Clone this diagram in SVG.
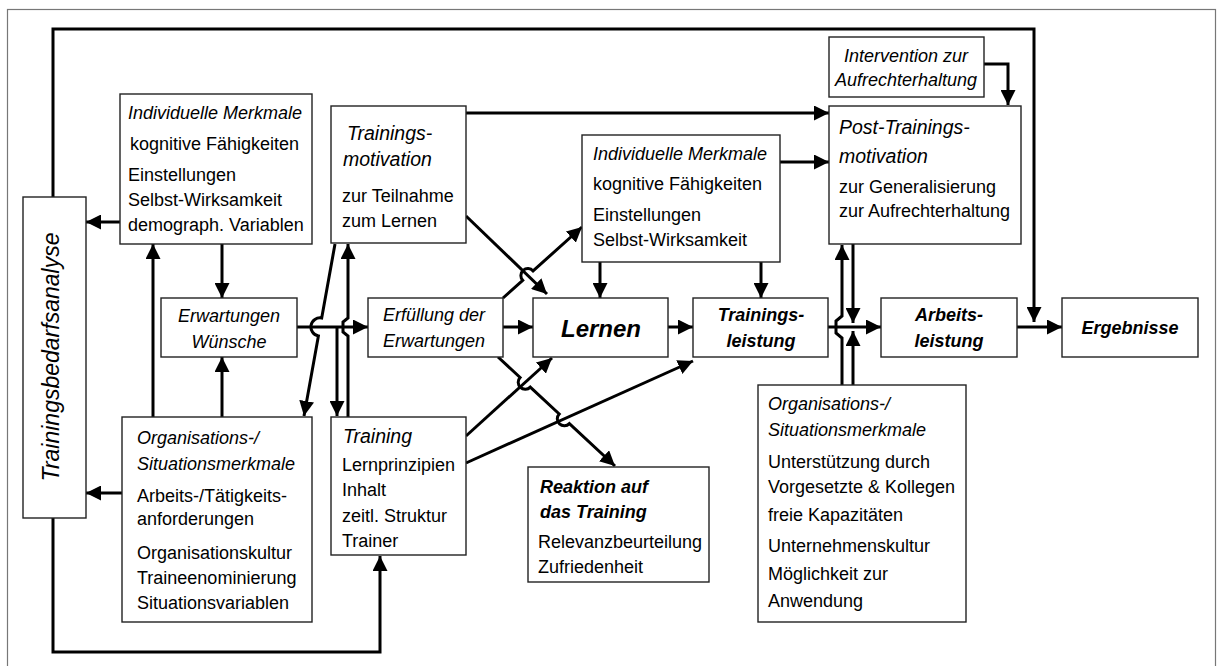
<svg xmlns="http://www.w3.org/2000/svg" width="1221" height="666" viewBox="0 0 1221 666">
<defs>
<marker id="ah" markerWidth="15" markerHeight="15" refX="15" refY="7.5" orient="auto" markerUnits="userSpaceOnUse">
<path d="M0,0 L15,7.5 L0,15 z" fill="#000"/>
</marker>
<style>
.box{fill:#fff;stroke:#222;stroke-width:1.4}
.c{fill:none;stroke:#000;stroke-width:3;stroke-linejoin:miter}
.a{marker-end:url(#ah)}
text{font-family:"Liberation Sans",Arial,sans-serif;font-size:18px;fill:#000}
.i{font-style:italic}
.b{font-weight:bold;font-style:italic}
.big{font-size:19.5px}
.mid{text-anchor:middle}
</style>
</defs>
<rect x="7.5" y="9.5" width="1208" height="680" fill="#fff" stroke="#777" stroke-width="1.2"/>

<g id="connectors">
<path class="c a" d="M53,197 V29 H1034 V322"/>
<path class="c a" d="M53,518 V652 H380 V556"/>
<path class="c a" d="M120,222 H86"/>
<path class="c a" d="M122,493 H86"/>
<path class="c a" d="M153,417 V244"/>
<path class="c a" d="M222,244 V298"/>
<path class="c a" d="M222,417 V357"/>
<path class="c a" d="M297,327 H368"/>
<path class="c a" d="M337,327 V416"/>
<path class="c a" d="M348,417 V336 L343,332 V322 L348,318 V244"/>
<path class="c a" d="M335,244 L321.7,318 A9,9 0 0 0 318.4,336 L304,416"/>
<path class="c a" d="M503,327 H533"/>
<path class="c a" d="M668,327 H693"/>
<path class="c a" d="M828,327 H881"/>
<path class="c a" d="M842,385 V338 L836,333 V321 L842,316 V245"/>
<path class="c a" d="M853,244 V323"/>
<path class="c a" d="M853,385 V331"/>
<path class="c a" d="M1017,327 H1062"/>
<path class="c a" d="M984,64 H1008 V105"/>
<path class="c a" d="M466,113 H829"/>
<path class="c a" d="M780,162 H829"/>
<path class="c a" d="M600,262 V298"/>
<path class="c a" d="M761,262 V298"/>
<path class="c a" d="M466,216 L547,294"/>
<path class="c a" d="M503,298 L522.7,280.3 A7,7 0 0 1 533.1,270.9 L582,227"/>
<path class="c a" d="M466,436 L552,358"/>
<path class="c a" d="M466,463 L693,361"/>
<path class="c a" d="M498,357 L520.1,377.5 A7,7 0 0 0 530.3,387.1 L559.2,414 A7,7 0 0 0 569.4,423.6 L615,466"/>
</g>

<g id="tba">
<rect class="box" x="23" y="197" width="63" height="321"/>
<text class="i mid" font-size="23" style="font-size:23px" transform="translate(59,357) rotate(-90)">Trainingsbedarfsanalyse</text>
</g>

<g id="ind1">
<rect class="box" x="120" y="94" width="192" height="150"/>
<text class="i" x="128" y="119">Individuelle Merkmale</text>
<text x="130" y="150">kognitive Fähigkeiten</text>
<text x="128" y="181">Einstellungen</text>
<text x="128" y="206">Selbst-Wirksamkeit</text>
<text x="128" y="231">demograph. Variablen</text>
</g>

<g id="tmot">
<rect class="box" x="331" y="106" width="135" height="137"/>
<text class="i big" x="347" y="140">Trainings-</text>
<text class="i big" x="343" y="166">motivation</text>
<text x="342" y="202">zur Teilnahme</text>
<text x="342" y="227">zum Lernen</text>
</g>

<g id="ind2">
<rect class="box" x="582" y="135" width="198" height="127"/>
<text class="i" x="593" y="160">Individuelle Merkmale</text>
<text x="593" y="190">kognitive Fähigkeiten</text>
<text x="593" y="221">Einstellungen</text>
<text x="593" y="246">Selbst-Wirksamkeit</text>
</g>

<g id="intervention">
<rect class="box" x="829" y="37" width="155" height="60"/>
<text class="i mid" x="906" y="62">Intervention zur</text>
<text class="i mid" x="906" y="86">Aufrechterhaltung</text>
</g>

<g id="post">
<rect class="box" x="829" y="106" width="192" height="138"/>
<text class="i big" x="839" y="134">Post-Trainings-</text>
<text class="i big" x="839" y="163">motivation</text>
<text x="839" y="193">zur Generalisierung</text>
<text x="839" y="217">zur Aufrechterhaltung</text>
</g>

<g id="erw">
<rect class="box" x="161" y="298" width="136" height="59"/>
<text class="i mid" x="229" y="322">Erwartungen</text>
<text class="i mid" x="229" y="348">Wünsche</text>
</g>

<g id="erf">
<rect class="box" x="368" y="298" width="135" height="59"/>
<text class="i" x="383" y="321">Erfüllung der</text>
<text class="i" x="383" y="347">Erwartungen</text>
</g>

<g id="lernen">
<rect class="box" x="533" y="298" width="135" height="59"/>
<text class="b mid" x="601" y="337" style="font-size:24px">Lernen</text>
</g>

<g id="tleistung">
<rect class="box" x="693" y="298" width="135" height="59"/>
<text class="b mid" x="761" y="321">Trainings-</text>
<text class="b mid" x="761" y="347">leistung</text>
</g>

<g id="aleistung">
<rect class="box" x="881" y="298" width="136" height="59"/>
<text class="b mid" x="949" y="321">Arbeits-</text>
<text class="b mid" x="949" y="347">leistung</text>
</g>

<g id="ergebnisse">
<rect class="box" x="1062" y="298" width="136" height="59"/>
<text class="b mid" x="1130" y="334">Ergebnisse</text>
</g>

<g id="org1">
<rect class="box" x="122" y="417" width="190" height="205"/>
<text class="i" x="137" y="444">Organisations-/</text>
<text class="i" x="137" y="470">Situationsmerkmale</text>
<text x="137" y="502">Arbeits-/Tätigkeits-</text>
<text x="137" y="525">anforderungen</text>
<text x="137" y="559">Organisationskultur</text>
<text x="137" y="584">Traineenominierung</text>
<text x="137" y="609">Situationsvariablen</text>
</g>

<g id="training">
<rect class="box" x="331" y="417" width="135" height="138"/>
<text class="i big" x="343" y="443">Training</text>
<text x="342" y="471">Lernprinzipien</text>
<text x="342" y="496">Inhalt</text>
<text x="342" y="522">zeitl. Struktur</text>
<text x="342" y="547">Trainer</text>
</g>

<g id="reaktion">
<rect class="box" x="528" y="467" width="181" height="115"/>
<text class="b" x="540" y="493">Reaktion auf</text>
<text class="b" x="540" y="518">das Training</text>
<text x="538" y="548">Relevanzbeurteilung</text>
<text x="538" y="573">Zufriedenheit</text>
</g>

<g id="org2">
<rect class="box" x="758" y="385" width="208" height="237"/>
<text class="i" x="768" y="410">Organisations-/</text>
<text class="i" x="768" y="436">Situationsmerkmale</text>
<text x="768" y="468">Unterstützung durch</text>
<text x="768" y="493">Vorgesetzte &amp; Kollegen</text>
<text x="768" y="521">freie Kapazitäten</text>
<text x="768" y="552">Unternehmenskultur</text>
<text x="768" y="580">Möglichkeit zur</text>
<text x="768" y="607">Anwendung</text>
</g>
</svg>
